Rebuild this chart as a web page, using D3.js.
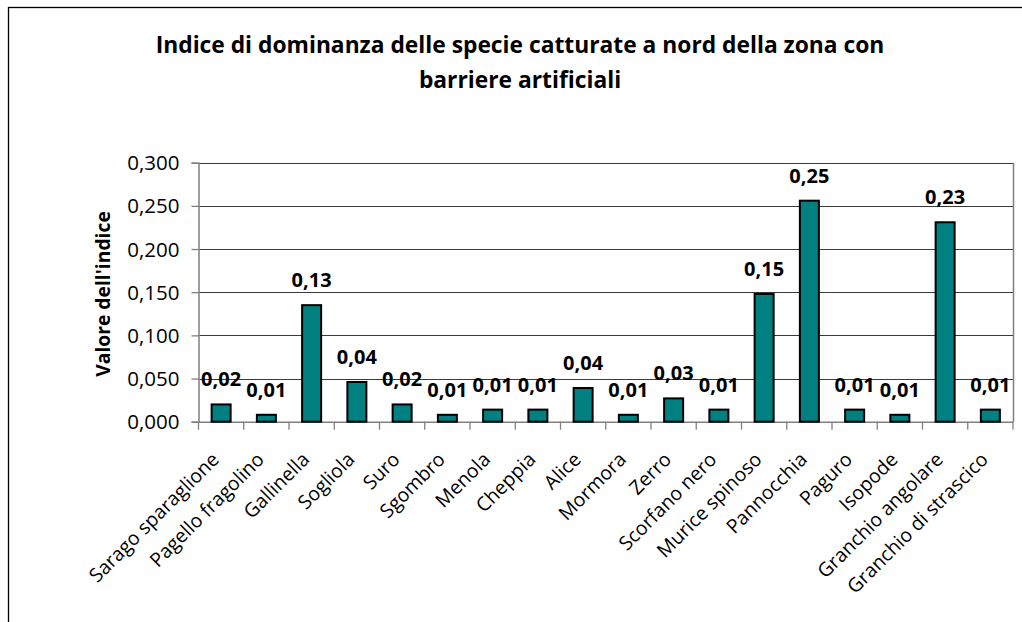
<!DOCTYPE html>
<html><head><meta charset="utf-8">
<script src="https://cdn.jsdelivr.net/npm/d3@7"></script>
<style>html,body{margin:0;padding:0;background:#fff;} svg{display:block;}</style>
</head><body>
<svg id="c" width="1022" height="622"></svg>
<script>
const categories = ["Sarago sparaglione","Pagello fragolino","Gallinella","Sogliola","Suro","Sgombro","Menola","Cheppia","Alice","Mormora","Zerro","Scorfano nero","Murice spinoso","Pannocchia","Paguro","Isopode","Granchio angolare","Granchio di strascico"];
const values = [0.020,0.008,0.135,0.046,0.020,0.008,0.014,0.014,0.039,0.008,0.027,0.014,0.148,0.256,0.014,0.008,0.231,0.014];
const dataLabels = ["0,02","0,01","0,13","0,04","0,02","0,01","0,01","0,01","0,04","0,01","0,03","0,01","0,15","0,25","0,01","0,01","0,23","0,01"];
const yTicks = [0,0.05,0.10,0.15,0.20,0.25,0.30];
const titleLines = ["Indice di dominanza delle specie catturate a nord della zona con","barriere artificiali"];
const yTitle = "Valore dell'indice";

const FONT = "'Open Sans', 'Noto Sans', sans-serif";
const svg = d3.select("#c");
const L = 198.5, R = 1013, T = 162.7, B = 421.7;

svg.append("rect").attr("x",8.5).attr("y",7.5).attr("width",1030).attr("height",640)
  .attr("fill","#fff").attr("stroke","#000").attr("stroke-width",1.3);

const x = d3.scaleBand().domain(categories).range([L,R]).paddingInner(0.58).paddingOuter(0.29);
const y = d3.scaleLinear().domain([0,0.3]).range([B,T]);

// gridlines
svg.append("g").selectAll("line").data(yTicks.slice(1)).join("line")
  .attr("x1",L).attr("x2",R).attr("y1",d=>Math.round(y(d))+0.5).attr("y2",d=>Math.round(y(d))+0.5)
  .attr("stroke","#3a3a3a").attr("stroke-width",1);
// plot border right
svg.append("line").attr("x1",R+0.5).attr("x2",R+0.5).attr("y1",T).attr("y2",B)
  .attr("stroke","#808080").attr("stroke-width",1.5);

// y axis
const yAxis = d3.axisLeft(y).tickValues(yTicks).tickSize(7).tickPadding(12)
  .tickFormat(d=>d3.format(".3f")(d).replace(".",","));
const gy = svg.append("g").attr("transform",`translate(${L},0)`).call(yAxis);
gy.select(".domain").attr("stroke","#808080").attr("stroke-width",1.5);
gy.selectAll(".tick line").attr("stroke","#808080").attr("stroke-width",1.3);
gy.selectAll(".tick text").attr("font-family",FONT).attr("font-size","20.5px").attr("fill","#000").attr("dy","0.34em");

// x axis
const xAxis = d3.axisBottom(x).tickSize(0).tickFormat("");
const gx = svg.append("g").attr("transform",`translate(0,${B})`).call(xAxis);
gx.select(".domain").attr("stroke","#808080").attr("stroke-width",1.5);
const bounds = categories.map(c=>x(c)-x.step()*x.paddingInner()/2).concat([R]);
gx.append("g").selectAll("line").data(bounds).join("line")
  .attr("x1",d=>d).attr("x2",d=>d).attr("y1",0).attr("y2",8)
  .attr("stroke","#808080").attr("stroke-width",1.3);

// category labels
svg.append("g").selectAll("text").data(categories).join("text")
  .attr("transform",d=>`translate(${x(d)+x.bandwidth()/2-1},${B+39}) rotate(-45)`)
  .attr("text-anchor","end").attr("font-family",FONT).attr("font-size","19.5px").attr("fill","#000")
  .text(d=>d);

// bars
svg.append("g").selectAll("rect").data(values).join("rect")
  .attr("x",(d,i)=>x(categories[i])).attr("width",x.bandwidth())
  .attr("y",d=>y(d)).attr("height",d=>B-y(d))
  .attr("fill","#008080").attr("stroke","#000").attr("stroke-width",2);

// data labels
svg.append("g").selectAll("text").data(values).join("text")
  .attr("x",(d,i)=>x(categories[i])+x.bandwidth()/2).attr("y",d=>y(d)-18)
  .attr("text-anchor","middle").attr("font-family",FONT).attr("font-weight","bold")
  .attr("font-size","20px").attr("fill","#000").text((d,i)=>dataLabels[i]);

// title
svg.append("g").selectAll("text").data(titleLines).join("text")
  .attr("x",520).attr("y",(d,i)=>53+i*35).attr("text-anchor","middle")
  .attr("font-family",FONT).attr("font-weight","bold").attr("font-size","22.8px").attr("fill","#000")
  .text(d=>d);

// y title
svg.append("text").attr("transform",`translate(110,294) rotate(-90)`).attr("text-anchor","middle")
  .attr("font-family",FONT).attr("font-weight","bold").attr("font-size","19.3px").attr("fill","#000")
  .text(yTitle);
</script>
</body></html>
